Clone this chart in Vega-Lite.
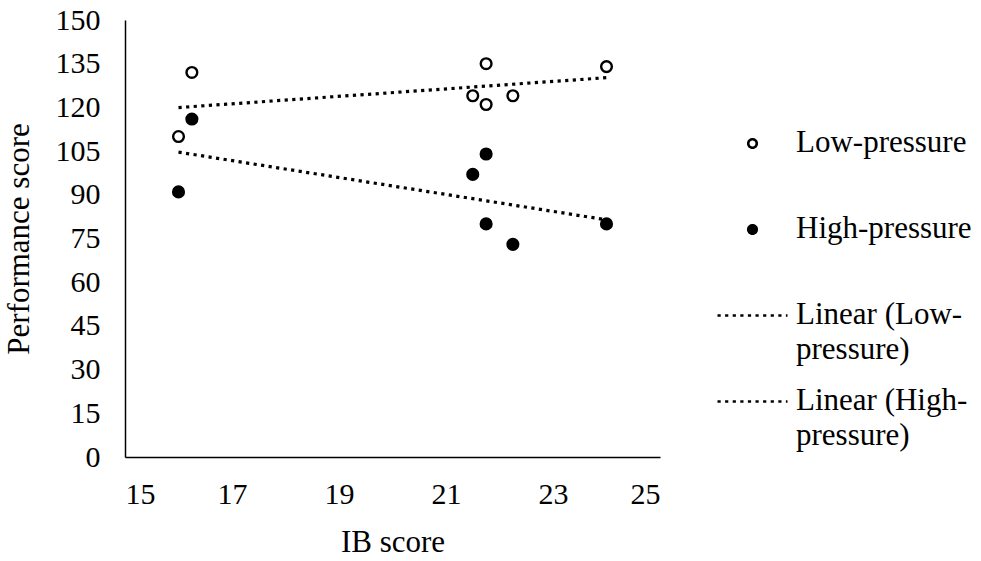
{
  "$schema": "https://vega.github.io/schema/vega-lite/v6.json",
  "width": 535,
  "height": 437,
  "autosize": {"type": "none"},
  "padding": {"left": 125, "top": 20, "right": 321, "bottom": 104},
  "background": "white",
  "config": {
    "view": {"stroke": null},
    "font": "Liberation Serif",
    "axis": {
      "domainColor": "black",
      "domainWidth": 1.5,
      "ticks": false,
      "grid": false,
      "labelFont": "Liberation Serif",
      "labelFontSize": 30,
      "labelColor": "black",
      "titleFont": "Liberation Serif",
      "titleFontSize": 31,
      "titleFontWeight": "normal",
      "titleColor": "black"
    }
  },
  "data": {
    "values": [
      {"ib": 16.25, "perf": 132, "group": "Low-pressure", "trend": "Linear (Low-pressure)"},
      {"ib": 16.0, "perf": 110, "group": "Low-pressure", "trend": "Linear (Low-pressure)"},
      {"ib": 21.75, "perf": 135, "group": "Low-pressure", "trend": "Linear (Low-pressure)"},
      {"ib": 21.5, "perf": 124, "group": "Low-pressure", "trend": "Linear (Low-pressure)"},
      {"ib": 21.75, "perf": 121, "group": "Low-pressure", "trend": "Linear (Low-pressure)"},
      {"ib": 22.25, "perf": 124, "group": "Low-pressure", "trend": "Linear (Low-pressure)"},
      {"ib": 24.0, "perf": 134, "group": "Low-pressure", "trend": "Linear (Low-pressure)"},
      {"ib": 16.25, "perf": 116, "group": "High-pressure", "trend": "Linear (High-pressure)"},
      {"ib": 16.0, "perf": 91, "group": "High-pressure", "trend": "Linear (High-pressure)"},
      {"ib": 21.75, "perf": 104, "group": "High-pressure", "trend": "Linear (High-pressure)"},
      {"ib": 21.5, "perf": 97, "group": "High-pressure", "trend": "Linear (High-pressure)"},
      {"ib": 21.75, "perf": 80, "group": "High-pressure", "trend": "Linear (High-pressure)"},
      {"ib": 22.25, "perf": 73, "group": "High-pressure", "trend": "Linear (High-pressure)"},
      {"ib": 24.0, "perf": 80, "group": "High-pressure", "trend": "Linear (High-pressure)"}
    ]
  },
  "layer": [
    {
      "transform": [{"regression": "perf", "on": "ib", "groupby": ["trend"]}],
      "mark": {"type": "line", "color": "black", "strokeWidth": 3.2, "strokeCap": "butt"},
      "encoding": {
        "x": {"field": "ib", "type": "quantitative", "title": "IB score",
              "scale": {"domain": [15, 25], "nice": false, "zero": false},
              "axis": {"values": [15, 17, 19, 21, 23, 25], "labelPadding": 22, "titlePadding": 18}},
        "y": {"field": "perf", "type": "quantitative", "title": "Performance score",
              "scale": {"domain": [0, 150], "nice": false},
              "axis": {"values": [0, 15, 30, 45, 60, 75, 90, 105, 120, 135, 150], "labelPadding": 25, "titlePadding": 20}},
        "strokeDash": {"field": "trend", "type": "nominal",
          "scale": {"domain": ["Low-pressure", "High-pressure", "Linear (Low-pressure)", "Linear (High-pressure)"],
                    "range": [[1, 0], [1, 0], [3.2, 4.4], [3.2, 4.4]]},
          "legend": {"title": null, "orient": "none", "legendX": 592, "legendY": 108, "padding": 0, "rowPadding": 20,
            "symbolSize": 72, "symbolOffset": 20, "labelOffset": 28, "labelFont": "Liberation Serif", "labelFontSize": 31,
            "labelColor": "black", "labelLimit": 0, "labelBaseline": "top", "symbolStrokeColor": "black", "symbolStrokeWidth": 2.6,
            "labelExpr": "datum.value == 'Linear (Low-pressure)' ? ['Linear (Low-', 'pressure)'] : datum.value == 'Linear (High-pressure)' ? ['Linear (High-', 'pressure)'] : [datum.label, '']",
            "encode": {"labels": {"update": {"dy": {"value": -15.5}, "lineHeight": {"value": 35}}}}}
        }
      }
    },
    {
      "mark": {"type": "point", "stroke": "black", "strokeWidth": 2.4, "size": 115, "opacity": 1},
      "encoding": {
        "x": {"field": "ib", "type": "quantitative"},
        "y": {"field": "perf", "type": "quantitative"},
        "shape": {"field": "group", "type": "nominal",
          "scale": {"domain": ["Low-pressure", "High-pressure", "Linear (Low-pressure)", "Linear (High-pressure)"],
                    "range": ["circle", "circle", "M-8.25,0L8.25,0", "M-8.25,0L8.25,0"]},
          "legend": {"title": null, "orient": "none", "legendX": 592, "legendY": 108, "padding": 0, "rowPadding": 20,
            "symbolSize": 72, "symbolOffset": 20, "labelOffset": 28, "labelFont": "Liberation Serif", "labelFontSize": 31,
            "labelColor": "black", "labelLimit": 0, "labelBaseline": "top", "symbolStrokeColor": "black", "symbolStrokeWidth": 2.6,
            "labelExpr": "datum.value == 'Linear (Low-pressure)' ? ['Linear (Low-', 'pressure)'] : datum.value == 'Linear (High-pressure)' ? ['Linear (High-', 'pressure)'] : [datum.label, '']",
            "encode": {"labels": {"update": {"dy": {"value": -15.5}, "lineHeight": {"value": 35}}}}}
        },
        "fill": {"field": "group", "type": "nominal",
          "scale": {"domain": ["Low-pressure", "High-pressure", "Linear (Low-pressure)", "Linear (High-pressure)"],
                    "range": ["white", "black", "transparent", "transparent"]},
          "legend": {"title": null, "orient": "none", "legendX": 592, "legendY": 108, "padding": 0, "rowPadding": 20,
            "symbolSize": 72, "symbolOffset": 20, "labelOffset": 28, "labelFont": "Liberation Serif", "labelFontSize": 31,
            "labelColor": "black", "labelLimit": 0, "labelBaseline": "top", "symbolStrokeColor": "black", "symbolStrokeWidth": 2.6,
            "labelExpr": "datum.value == 'Linear (Low-pressure)' ? ['Linear (Low-', 'pressure)'] : datum.value == 'Linear (High-pressure)' ? ['Linear (High-', 'pressure)'] : [datum.label, '']",
            "encode": {"labels": {"update": {"dy": {"value": -15.5}, "lineHeight": {"value": 35}}}}}
        }
      }
    }
  ]
}
